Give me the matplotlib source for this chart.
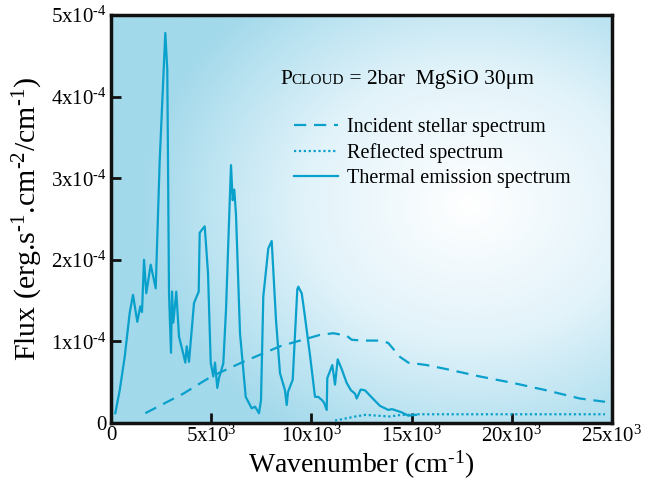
import numpy as np
import matplotlib
matplotlib.use("Agg")
import matplotlib.pyplot as plt
from matplotlib.colors import LinearSegmentedColormap

plt.rcParams['font.family'] = ['Liberation Serif', 'DejaVu Serif']
plt.rcParams['mathtext.fontset'] = 'custom'
plt.rcParams['mathtext.rm'] = 'Liberation Serif'
plt.rcParams['mathtext.it'] = 'Liberation Serif:italic'
plt.rcParams['mathtext.bf'] = 'Liberation Serif:bold'

# Thermal emission spectrum (wavenumber in cm-1, flux in 1e-4 erg/s/cm2/cm-1)
thermal_wn = [215, 434, 684, 933, 1098, 1312, 1462, 1547, 1647, 1761, 1981, 2231,
              2430, 2710, 2809, 2894, 2994, 3044, 3109, 3258, 3393, 3593, 3708,
              3777, 3892, 4142, 4376, 4426, 4541, 4676, 4840, 4975, 5105, 5190,
              5304, 5389, 5604, 5739, 5853, 5988, 6072, 6152, 6238, 6437, 6722,
              7021, 7186, 7385, 7485, 7600, 7849, 8019, 8234, 8433, 8683, 8767,
              8832, 9067, 9297, 9346, 9516, 9631, 9930, 10180, 10344, 10529,
              10629, 10764, 10793, 11043, 11178, 11312, 11527, 11762, 11976,
              12176, 12261, 12460, 12675, 13024, 13423, 13837, 14022, 14271,
              14506, 14835, 15220]
thermal_flux = [0.12, 0.40, 0.81, 1.35, 1.57, 1.24, 1.43, 1.36, 2.00, 1.59, 1.94,
                1.65, 3.22, 4.78, 4.33, 1.59, 0.86, 1.61, 1.23, 1.61, 1.06, 0.86,
                0.74, 0.94, 0.75, 1.47, 1.61, 2.33, 2.37, 2.41, 1.84, 0.74, 0.57,
                0.74, 0.43, 0.55, 0.73, 1.39, 2.21, 3.16, 2.73, 2.86, 2.55, 1.10,
                0.32, 0.18, 0.20, 0.12, 0.28, 1.55, 2.14, 2.23, 1.26, 0.61, 0.40,
                0.22, 0.38, 0.53, 1.64, 1.67, 1.59, 1.39, 0.83, 0.32, 0.32, 0.28,
                0.25, 0.16, 0.55, 0.71, 0.47, 0.78, 0.65, 0.49, 0.40, 0.36, 0.30,
                0.41, 0.40, 0.31, 0.21, 0.16, 0.17, 0.15, 0.13, 0.09, 0.10]

# Incident stellar spectrum
stellar_wn = [1712, 3608, 5005, 6602, 8433, 10429, 11093, 11760, 12010, 12590,
              13508, 13837, 14421, 14835, 15753, 16751, 18413, 20075, 21737,
              23400, 24650]
stellar_flux = [0.12, 0.36, 0.57, 0.75, 0.94, 1.08, 1.10, 1.07, 1.02, 1.01, 1.01,
                0.98, 0.81, 0.74, 0.71, 0.66, 0.57, 0.49, 0.40, 0.30, 0.26]

# Reflected spectrum
reflected_wn = [11178, 11600, 12200, 12700, 13300, 13900, 14500, 14900, 15300,
                18000, 21000, 24650]
reflected_flux = [0.03, 0.05, 0.08, 0.10, 0.09, 0.08, 0.10, 0.10, 0.107, 0.107,
                  0.107, 0.107]

xticks = [0, 5000, 10000, 15000, 20000, 25000]
xtick_labels = ['0', '5x10$^{3}$', '10x10$^{3}$', '15x10$^{3}$', '20x10$^{3}$',
                '25x10$^{3}$']
yticks = [0, 1e-4, 2e-4, 3e-4, 4e-4, 5e-4]
ytick_labels = ['0', r'1x10$^{\text{-4}}$', r'2x10$^{\text{-4}}$',
                r'3x10$^{\text{-4}}$', r'4x10$^{\text{-4}}$', r'5x10$^{\text{-4}}$']

line_color = '#0aa0cc'

W, H = 651, 480
fig = plt.figure(figsize=(W / 100, H / 100), dpi=100)
L, R, B, T = 111, 612, 423, 15
ax = fig.add_axes([L / W, (H - B) / H, (R - L) / W, (B - T) / H])

xmax, ymax = 25000, 5e-4
ax.set_xlim(0, xmax)
ax.set_ylim(0, ymax)

# Radial light-blue background
nx, ny = 400, 330
px = np.linspace(L, R, nx)
py = np.linspace(T, B, ny)
PX, PY = np.meshgrid(px, py)
cx, cy = 470, 205
d = np.sqrt(((PX - cx) / 330.0) ** 2 + ((PY - cy) / 270.0) ** 2)
t = np.clip(d, 0, 1)
bg_cmap = LinearSegmentedColormap.from_list('bg', ['#ffffff', '#e2f3fa', '#a2d9eb'])
ax.imshow(t, cmap=bg_cmap, vmin=0, vmax=1, extent=[0, xmax, 0, ymax],
          origin='upper', aspect='auto', interpolation='bilinear', zorder=0)

scale = 1e-4
ax.plot(stellar_wn, np.array(stellar_flux) * scale, color=line_color, lw=1.6,
        linestyle=(0, (5.5, 3.5)), label='Incident stellar spectrum', zorder=2)
ax.plot(reflected_wn, np.array(reflected_flux) * scale, color=line_color, lw=1.6,
        linestyle=(0, (1, 1.2)), label='Reflected spectrum', zorder=2)
ax.plot(thermal_wn, np.array(thermal_flux) * scale, color=line_color, lw=1.6,
        linestyle='-', label='Thermal emission spectrum', zorder=3)

for s in ax.spines.values():
    s.set_linewidth(2.5)
    s.set_color('#111111')

ax.set_xticks(xticks)
ax.set_xticklabels(xtick_labels, fontsize=15)
ax.set_yticks(yticks)
ax.set_yticklabels(ytick_labels, fontsize=15)
ax.tick_params(direction='in', length=7, width=2, color='#111111')
ax.tick_params(axis='x', pad=2)
ax.tick_params(axis='y', pad=3)

ax.set_xlabel(r'Wavenumber (cm$^{\text{-1}}$)', fontsize=20, labelpad=1)
ax.set_ylabel(r'Flux (erg.s$^{\text{-1}}$.cm$^{\text{-2}}$/cm$^{\text{-1}}$)',
              fontsize=21.5, labelpad=4)

leg = ax.legend(loc='upper left', bbox_to_anchor=((294 - L) / (R - L), (B - 118) / (B - T)),
                frameon=False, fontsize=14.5, handlelength=2.2, handletextpad=0.45,
                labelspacing=0.3, borderpad=0, borderaxespad=0)

# Cloud parameters annotation; "CLOUD" in small capitals on the same baseline
fig.canvas.draw()
renderer = fig.canvas.get_renderer()
base_x, base_y = 280, H - 84  # display pixels (origin bottom-left)
parts = [('P', 15.5), ('CLOUD', 11), (' = 2bar  MgSiO 30\u03bcm', 15.5)]
xcur = base_x
for s, fs in parts:
    txt = fig.text(xcur / W, base_y / H, s, fontsize=fs, ha='left', va='baseline')
    bb = txt.get_window_extent(renderer=renderer)
    xcur = bb.x1

fig.savefig('out.png', dpi=100)
